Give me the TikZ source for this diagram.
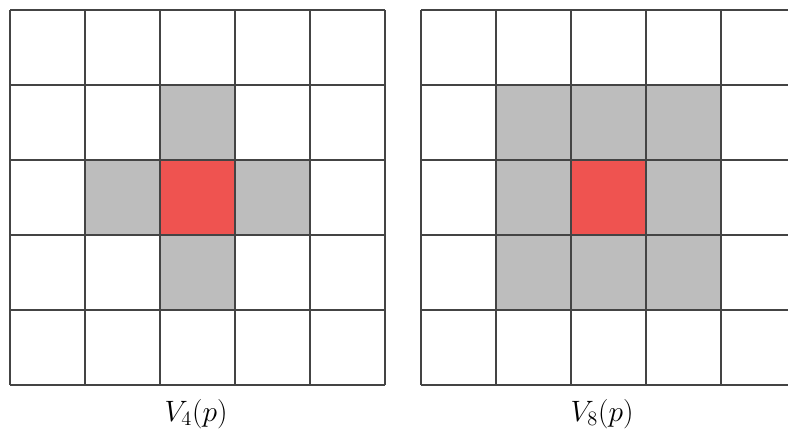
\documentclass[tikz,border=0pt]{standalone}
\definecolor{gridline}{HTML}{444444}
\definecolor{nbgray}{HTML}{BDBDBD}
\definecolor{ctrred}{HTML}{EF5350}
\begin{document}
\begin{tikzpicture}[x=1pt,y=-1pt,
  gridl/.style={draw=gridline,line width=2pt},
  nb/.style={fill=nbgray},
  ctr/.style={fill=ctrred},
  lab/.style={font=\fontsize{20}{24}\selectfont,inner sep=0pt}]
\useasboundingbox (0,0) rectangle (788,431);
\clip (0,0) rectangle (788,431);
% left grid (origin 10,10)
\begin{scope}[shift={(10,10)}]
  \fill[nb] (150,75) rectangle (225,150);
  \fill[nb] (75,150) rectangle (150,225);
  \fill[nb] (225,150) rectangle (300,225);
  \fill[nb] (150,225) rectangle (225,300);
  \fill[ctr] (150,150) rectangle (225,225);
  \foreach \i in {0,...,5} {
    \draw[gridl] (\i*75,0) -- (\i*75,375);
    \draw[gridl] (0,\i*75) -- (375,\i*75);
  }
\end{scope}
% right grid (origin 421,10)
\begin{scope}[shift={(421,10)}]
  \fill[nb] (75,75) rectangle (300,300);
  \fill[ctr] (150,150) rectangle (225,225);
  \foreach \i in {0,...,5} {
    \draw[gridl] (\i*75,0) -- (\i*75,375);
    \draw[gridl] (0,\i*75) -- (375,\i*75);
  }
\end{scope}
\node[lab] (l4) at (196,414) {\scalebox{1.42}{$V_4(p)$}};
\node[lab] (l8) at (602,414) {\scalebox{1.42}{$V_8(p)$}};
\end{tikzpicture}
\end{document}
